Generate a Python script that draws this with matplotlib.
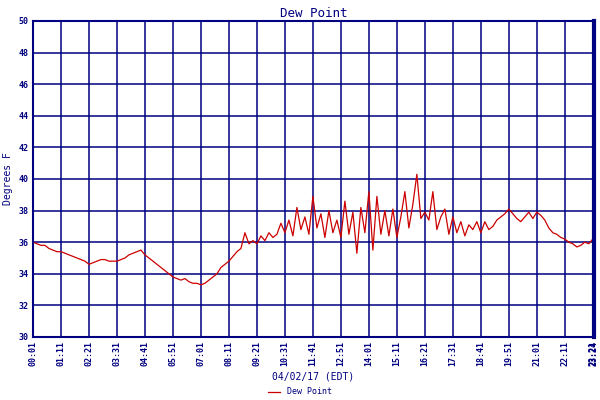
import numpy as np
import matplotlib.pyplot as plt

# minutes after midnight, sampled every 10 min from 00:01
minutes = list(range(1, 1402, 10))
dew_point = [
    36.0, 35.9, 35.8, 35.8, 35.6, 35.5, 35.4,
    35.4, 35.3, 35.2, 35.1, 35.0, 34.9, 34.8,
    34.6, 34.7, 34.8, 34.9, 34.9, 34.8, 34.8,
    34.8, 34.9, 35.0, 35.2, 35.3, 35.4, 35.5,
    35.2, 35.0, 34.8, 34.6, 34.4, 34.2, 34.0,
    33.8, 33.7, 33.6, 33.7, 33.5, 33.4, 33.4,
    33.3, 33.4, 33.6, 33.8, 34.0, 34.4, 34.6,
    34.8, 35.1, 35.4, 35.6, 36.6, 35.9, 36.1,
    35.9, 36.4, 36.1, 36.6, 36.3, 36.5, 37.2,
    36.6, 37.4, 36.4, 38.2, 36.8, 37.6, 36.5,
    38.9, 36.9, 37.8, 36.3, 38.0, 36.6, 37.4,
    36.3, 38.6, 36.5, 37.9, 35.3, 38.2, 36.6,
    39.2, 35.5, 38.9, 36.5, 38.0, 36.4, 38.1,
    36.3, 37.6, 39.2, 36.9, 38.4, 40.3, 37.5,
    37.9, 37.4, 39.2, 36.8, 37.6, 38.1, 36.5,
    37.6, 36.6, 37.3, 36.4, 37.1, 36.8, 37.3,
    36.6, 37.3, 36.8, 37.0, 37.4, 37.6, 37.8,
    38.1, 37.8, 37.5, 37.3, 37.6, 37.9, 37.5,
    37.9, 37.7, 37.4, 36.9, 36.6, 36.5, 36.3,
    36.2, 36.0, 35.9, 35.7, 35.8, 36.0, 35.9,
    36.2,
]
tick_min = list(range(1, 1402, 70)) + [1404]
tick_labels = ["%02d:%02d" % (m // 60, m % 60) for m in tick_min]

navy = "#000080"
fig = plt.figure(figsize=(6, 4), dpi=100)
ax = fig.add_axes([0.055, 0.1575, 0.935, 0.79])
ax.plot(minutes, dew_point, color="#cc0000", lw=0.9, label="Dew Point")
ax.set_xlim(1, 1404)
ax.set_ylim(30, 50)
ax.set_yticks(range(30, 51, 2))
ax.set_xticks(tick_min)
ax.set_xticklabels(tick_labels, rotation=90)
ax.tick_params(colors=navy, labelsize=6, length=0, pad=3)
for lbl in ax.get_xticklabels() + ax.get_yticklabels():
    lbl.set_family("DejaVu Sans Mono")
    lbl.set_fontweight("bold")
ax.grid(True, color=navy, lw=1.1)
for s in ax.spines.values():
    s.set_color(navy)
    s.set_linewidth(1.5)
ax.spines["right"].set_linewidth(3)
ax.set_title("Dew Point", color=navy, family="DejaVu Sans Mono", fontsize=9, pad=3)
ax.set_ylabel("Degrees F", color=navy, family="DejaVu Sans Mono", fontsize=7, labelpad=4)
ax.set_xlabel("04/02/17 (EDT)", color=navy, family="DejaVu Sans Mono", fontsize=7, labelpad=4)
leg = fig.legend(loc="lower center", bbox_to_anchor=(0.5, -0.01), frameon=False,
                 handlelength=1.5, prop={"family": "DejaVu Sans Mono", "size": 6})
for t in leg.get_texts():
    t.set_color(navy)
fig.savefig("out.png", dpi=100)
